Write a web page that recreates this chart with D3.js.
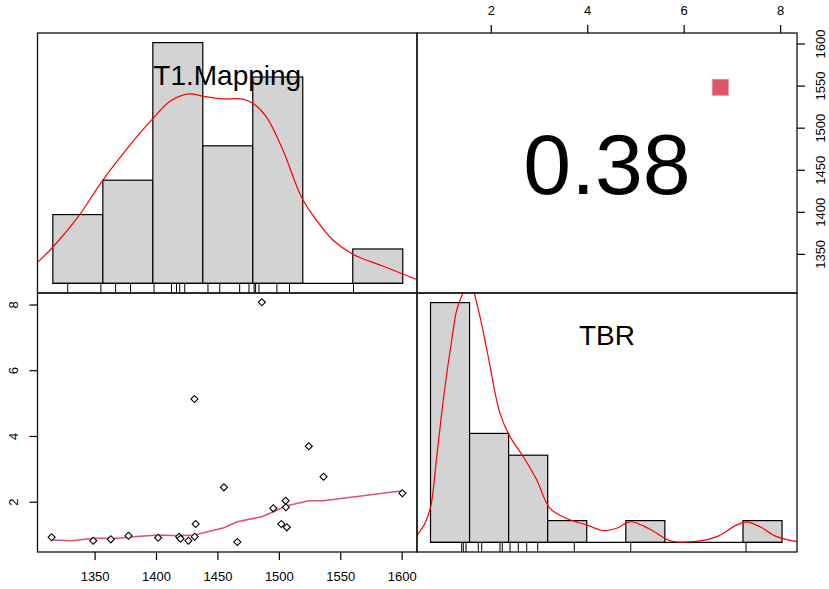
<!DOCTYPE html>
<html>
  <body style="margin:0;background:#fff">
    <style>
      svg {
        display: block;
        font-family: 'Liberation Sans', Arial, sans-serif;
      }
      .tick text {
        font-size: 13px;
        fill: #000;
      }
    </style>
    <div class="chart"></div>
    <script src="https://d3js.org/d3.v7.min.js"></script>
    <script type="text/javascript">
      const width = 829;
      const height = 589;
      // panel grid (2 x 2, no gaps)
      const pLeft = 37.5, pMidX = 417, pRight = 797;
      const pTop = 33, pMidY = 293, pBottom = 552;

      const varNames = ['T1.Mapping', 'TBR'];
      const corrLabel = '0.38';

      // scatter: T1.Mapping (x) vs TBR (y)
      const t1Values = [1315.0, 1348.9, 1363.2, 1377.6, 1401.7, 1418.8, 1419.9, 1426.4, 1431.3, 1431.5, 1432.3,
        1455.3, 1466.2, 1486.2, 1495.5, 1502.0, 1505.5, 1505.7, 1506.5, 1524.4, 1536.4, 1600.6];
      const tbrValues = [0.917, 0.814, 0.856, 0.966, 0.905, 0.935, 0.875, 0.814, 5.125, 0.935, 1.322,
        2.438, 0.774, 8.067, 1.799, 1.322, 2.031, 1.830, 1.221, 3.686, 2.761, 2.256];

      // smoother through the scatter
      const loessX = [1315.0, 1331.3, 1348.9, 1369.2, 1381.4, 1401.7, 1419.3, 1431.5, 1455.3, 1466.2, 1486.2,
        1495.5, 1505.5, 1524.4, 1536.4, 1600.6];
      const loessY = [0.835, 0.814, 0.887, 0.887, 0.935, 0.987, 0.966, 0.987, 1.209, 1.392, 1.544,
        1.696, 1.869, 2.031, 2.031, 2.335];

      // histograms on the diagonal
      const t1Breaks = [1316.0, 1356.7, 1397.4, 1438.1, 1478.8, 1519.5, 1560.2, 1600.9];
      const t1Counts = [2, 3, 7, 4, 6, 0, 1];
      const tbrBreaks = [0.75, 1.56, 2.37, 3.18, 3.99, 4.80, 5.61, 6.42, 7.23, 8.04];
      const tbrCounts = [11, 5, 4, 1, 0, 1, 0, 0, 1];

      // rug marks under the histograms
      const t1Rug = [1328.1, 1355.1, 1367.1, 1379.3, 1398.4, 1412.6, 1416.7, 1419.3, 1423.4, 1442.3, 1451.9,
        1468.1, 1475.7, 1479.9, 1481.1, 1483.8, 1498.4, 1508.7, 1560.8];
      const tbrRug = [1.397, 1.430, 1.486, 1.741, 1.812, 2.191, 2.239, 2.399, 2.571, 2.745, 2.973, 3.732,
        4.902, 7.293];

      // density curves (relative to tallest bar)
      const t1DensX = [1303.7, 1316.3, 1336.7, 1355.7, 1376.0, 1396.8, 1411.2, 1426.1, 1438.3, 1451.8, 1470.8,
        1478.9, 1489.8, 1503.3, 1518.3, 1530.5, 1544.0, 1560.2, 1584.6, 1611.7];
      const t1DensY = [0.088, 0.152, 0.277, 0.422, 0.557, 0.681, 0.755, 0.787, 0.778, 0.767, 0.765,
        0.748, 0.692, 0.554, 0.360, 0.263, 0.180, 0.121, 0.072, 0.017];
      const tbrDensX = [0.476, 0.636, 0.754, 0.879, 1.015, 1.190, 1.293, 1.418, 1.538, 1.658, 1.776, 1.948,
        2.191, 2.399, 2.675, 2.953, 3.228, 3.574, 3.989, 4.334, 4.612, 4.888, 5.302, 5.717, 6.201, 6.686,
        7.101, 7.308, 7.584, 7.930, 8.345];
      const tbrDensY = [0.031, 0.080, 0.149, 0.357, 0.594, 0.844, 0.969, 1.040, 1.130, 1.040, 0.941, 0.774,
        0.538, 0.441, 0.357, 0.260, 0.142, 0.100, 0.073, 0.049, 0.059, 0.086, 0.055, 0.007, 0.003, 0.024,
        0.073, 0.086, 0.065, 0.024, 0.003];

      // significance marker in the upper panel (TBR, T1.Mapping)
      const markerPoint = [6.76, 1548];

      const t1Ticks = [1350, 1400, 1450, 1500, 1550, 1600];
      const tbrTicks = [2, 4, 6, 8];

      const t1Domain = [1303.5, 1612.5];
      const tbrDomain = [0.47, 8.35];

      const xT1 = d3.scaleLinear().domain(t1Domain).range([pLeft, pMidX]);
      const xTbr = d3.scaleLinear().domain(tbrDomain).range([pMidX, pRight]);
      const yT1 = d3.scaleLinear().domain(t1Domain).range([pMidY, pTop]);
      const yTbr = d3.scaleLinear().domain(tbrDomain).range([pBottom, pMidY]);
      // diagonal panels: relative height 0..1 padded 4%
      const yHist1 = d3.scaleLinear().domain([-0.04, 1.04]).range([pMidY, pTop]);
      const yHist2 = d3.scaleLinear().domain([-0.04, 1.04]).range([pBottom, pMidY]);

      const svg = d3
        .select('.chart')
        .append('svg')
        .attr('width', width)
        .attr('height', height);

      const defs = svg.append('defs');
      function clip(id, x0, y0, x1, y1) {
        defs.append('clipPath').attr('id', id)
          .append('rect').attr('x', x0).attr('y', y0).attr('width', x1 - x0).attr('height', y1 - y0);
        return `url(#${id})`;
      }

      function drawHist(g, xs, ys, breaks, counts, rug, densX, densY, label) {
        const maxCount = d3.max(counts);
        const bins = counts.map((c, i) => ({ x0: breaks[i], x1: breaks[i + 1], c: c }));
        g.selectAll('rect.bar')
          .data(bins.filter((d) => d.c > 0))
          .enter()
          .append('rect')
          .attr('class', 'bar')
          .attr('x', (d) => xs(d.x0))
          .attr('width', (d) => xs(d.x1) - xs(d.x0))
          .attr('y', (d) => ys(d.c / maxCount))
          .attr('height', (d) => ys(0) - ys(d.c / maxCount))
          .attr('fill', '#d3d3d3')
          .attr('stroke', '#000')
          .attr('stroke-width', 1.2);
        // baseline under empty bins
        g.append('line')
          .attr('x1', xs(breaks[0]))
          .attr('x2', xs(breaks[breaks.length - 1]))
          .attr('y1', ys(0))
          .attr('y2', ys(0))
          .attr('stroke', '#000')
          .attr('stroke-width', 1.2);
        g.selectAll('line.rug')
          .data(rug)
          .enter()
          .append('line')
          .attr('class', 'rug')
          .attr('x1', (d) => xs(d))
          .attr('x2', (d) => xs(d))
          .attr('y1', ys(0))
          .attr('y2', ys(-0.04))
          .attr('stroke', '#000')
          .attr('stroke-width', 1);
        const line = d3.line()
          .x((d, i) => xs(densX[i]))
          .y((d) => ys(d))
          .curve(d3.curveCatmullRom);
        g.append('path')
          .attr('d', line(densY))
          .attr('fill', 'none')
          .attr('stroke', '#ff0000')
          .attr('stroke-width', 1.2);
        const r = xs.range();
        g.append('text')
          .attr('x', (r[0] + r[1]) / 2)
          .attr('y', ys.range()[1] + 52)
          .attr('text-anchor', 'middle')
          .attr('font-size', 28)
          .text(label);
      }

      // top-left: T1 histogram
      const g11 = svg.append('g').attr('clip-path', clip('c11', pLeft, pTop, pMidX, pMidY));
      drawHist(g11, xT1, yHist1, t1Breaks, t1Counts, t1Rug, t1DensX, t1DensY, varNames[0]);

      // bottom-right: TBR histogram
      const g22 = svg.append('g').attr('clip-path', clip('c22', pMidX, pMidY, pRight, pBottom));
      drawHist(g22, xTbr, yHist2, tbrBreaks, tbrCounts, tbrRug, tbrDensX, tbrDensY, varNames[1]);

      // bottom-left: scatter
      const g21 = svg.append('g').attr('clip-path', clip('c21', pLeft, pMidY, pMidX, pBottom));
      const loessLine = d3.line()
        .x((d, i) => xT1(loessX[i]))
        .y((d) => yTbr(d));
      g21.append('path')
        .attr('d', loessLine(loessY))
        .attr('fill', 'none')
        .attr('stroke', '#df536b')
        .attr('stroke-width', 1.6);
      const diamond = d3.symbol(d3.symbolSquare, 25);
      g21.selectAll('path.pt')
        .data(t1Values)
        .enter()
        .append('path')
        .attr('class', 'pt')
        .attr('d', diamond)
        .attr('transform', (d, i) => `translate(${xT1(d)},${yTbr(tbrValues[i])}) rotate(45)`)
        .attr('fill', '#fff')
        .attr('stroke', '#000')
        .attr('stroke-width', 1.1);

      // top-right: correlation
      svg.append('text')
        .attr('x', (pMidX + pRight) / 2)
        .attr('y', (pTop + pMidY) / 2 + 31)
        .attr('text-anchor', 'middle')
        .attr('font-size', 86)
        .text(corrLabel);
      svg.append('rect')
        .attr('x', xTbr(markerPoint[0]) - 8)
        .attr('y', yT1(markerPoint[1]) - 8)
        .attr('width', 16)
        .attr('height', 16)
        .attr('fill', '#df536b')
        .attr('stroke', '#e58a9a')
        .attr('stroke-width', 0.8);

      // panel boxes
      [[pLeft, pTop, pMidX, pMidY], [pMidX, pTop, pRight, pMidY], [pLeft, pMidY, pMidX, pBottom], [pMidX, pMidY, pRight, pBottom]]
        .forEach((b) => {
          svg.append('rect')
            .attr('x', b[0])
            .attr('y', b[1])
            .attr('width', b[2] - b[0])
            .attr('height', b[3] - b[1])
            .attr('fill', 'none')
            .attr('stroke', '#111')
            .attr('stroke-width', 1.3);
        });

      // axes, R style (outer ticks, rotated y labels)
      const fmt = d3.format('d');
      function cleanAxis(g) {
        g.select('.domain').remove();
        g.selectAll('.tick line').attr('stroke', '#000').attr('stroke-width', 1.2);
      }
      svg.append('g')
        .attr('transform', `translate(0, ${pTop})`)
        .call(d3.axisTop(xTbr).tickValues(tbrTicks).tickFormat(fmt).tickSize(8).tickPadding(10))
        .call(cleanAxis);
      svg.append('g')
        .attr('transform', `translate(0, ${pBottom})`)
        .call(d3.axisBottom(xT1).tickValues(t1Ticks).tickFormat(fmt).tickSize(8).tickPadding(12))
        .call(cleanAxis);
      svg.append('g')
        .attr('transform', `translate(${pLeft}, 0)`)
        .call(d3.axisLeft(yTbr).tickValues(tbrTicks).tickFormat(fmt).tickSize(8))
        .call(cleanAxis)
        .selectAll('.tick text')
        .attr('x', 0)
        .attr('dy', '0.35em')
        .attr('text-anchor', 'middle')
        .attr('transform', 'translate(-24, 0) rotate(-90)');
      svg.append('g')
        .attr('transform', `translate(${pRight}, 0)`)
        .call(d3.axisRight(yT1).tickValues(t1Ticks).tickFormat(fmt).tickSize(8))
        .call(cleanAxis)
        .selectAll('.tick text')
        .attr('x', 0)
        .attr('dy', '0.3em')
        .attr('text-anchor', 'middle')
        .attr('transform', 'translate(24.5, 0) rotate(-90)');
    </script>
  </body>
</html>
